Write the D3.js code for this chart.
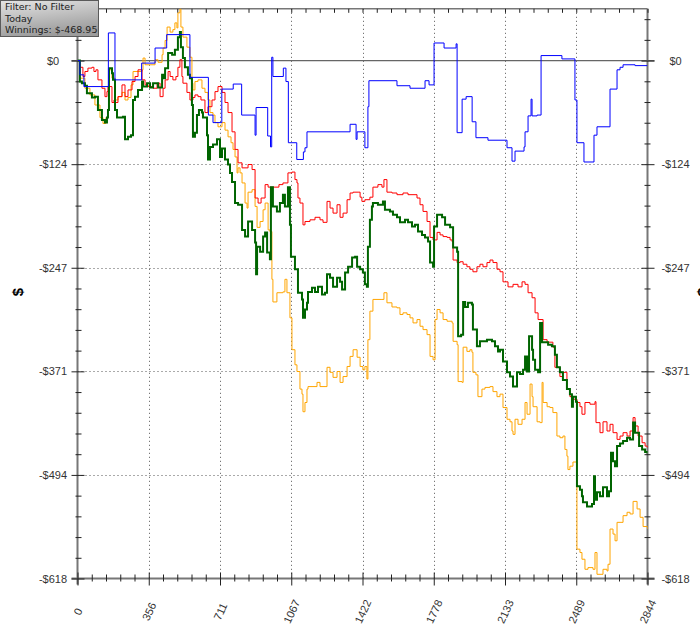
<!DOCTYPE html>
<html><head><meta charset="utf-8">
<script src="https://cdn.jsdelivr.net/npm/d3@7"></script>
<style>
html,body{margin:0;padding:0;background:#fff;}
svg{display:block;}
</style></head>
<body>
<script>
// ---------- data ----------
const xTickValues = [0, 355.5, 711, 1066.5, 1422, 1777.5, 2133, 2488.5, 2844];
const xTickLabels = ["0","356","711","1067","1422","1778","2133","2489","2844"];
const yTickValues = [0, -123.6, -247.2, -370.8, -494.4, -618];
const yTickLabels = ["$0","-$124","-$247","-$371","-$494","-$618"];
const legendLines = ["Filter: No Filter","Today","Winnings: $-468.95"];

// [hand index, cumulative $]
const redSeries = [[0,0],[12,-8],[27,-19],[37,-13],[52,-9],[72,-8],[82,-13],[92,-11],[102,-23],[122,-33],[137,-43],[147,-37],[152,-31],[172,-50],[182,-47],[187,-50],[202,-43],[222,-29],[237,-43],[252,-35],[272,-25],[287,-19],[302,-11],[322,-23],[337,-29],[352,-31],[377,-33],[397,-27],[412,-43],[427,-33],[437,-23],[452,-13],[462,-19],[476,-23],[491,-19],[501,-8],[511,1],[521,-19],[526,-27],[546,-38],[561,-47],[576,-44],[586,-41],[601,-43],[616,-47],[636,-62],[651,-55],[671,-47],[686,-37],[701,-31],[721,-38],[736,-50],[751,-62],[771,-85],[786,-106],[801,-122],[821,-128],[846,-128],[851,-124],[871,-130],[886,-164],[901,-170],[916,-164],[936,-148],[951,-151],[985,-151],[1005,-148],[1025,-146],[1050,-134],[1070,-133],[1085,-142],[1095,-146],[1100,-164],[1110,-170],[1125,-196],[1135,-192],[1160,-190],[1185,-187],[1210,-190],[1225,-193],[1245,-168],[1260,-176],[1275,-182],[1295,-172],[1310,-187],[1325,-182],[1345,-166],[1360,-158],[1375,-157],[1400,-157],[1410,-163],[1419,-168],[1434,-166],[1459,-163],[1474,-151],[1499,-148],[1519,-151],[1529,-142],[1544,-157],[1569,-158],[1594,-160],[1624,-158],[1649,-160],[1674,-160],[1694,-164],[1709,-172],[1724,-180],[1744,-192],[1759,-211],[1774,-214],[1794,-205],[1809,-208],[1824,-210],[1844,-211],[1859,-214],[1869,-216],[1874,-238],[1894,-241],[1909,-240],[1924,-243],[1943,-246],[1958,-249],[1973,-252],[1993,-246],[2008,-243],[2023,-246],[2043,-241],[2058,-238],[2073,-241],[2093,-249],[2108,-252],[2123,-264],[2148,-270],[2173,-267],[2198,-270],[2218,-264],[2233,-267],[2248,-277],[2268,-283],[2283,-301],[2298,-309],[2318,-309],[2323,-333],[2343,-336],[2372,-342],[2382,-366],[2407,-377],[2422,-372],[2442,-392],[2457,-401],[2472,-404],[2492,-408],[2507,-413],[2517,-422],[2532,-408],[2557,-410],[2582,-407],[2587,-432],[2607,-444],[2622,-431],[2642,-442],[2657,-434],[2672,-444],[2692,-452],[2707,-448],[2722,-444],[2742,-448],[2757,-442],[2772,-426],[2782,-436],[2797,-448],[2817,-456],[2832,-460],[2844,-462]];

const orangeSeries = [[0,0],[12,-21],[37,-33],[62,-41],[87,-53],[112,-68],[127,-75],[142,-68],[152,-59],[157,-11],[172,-21],[187,-47],[202,-43],[222,-38],[237,-47],[252,-44],[267,-29],[277,-13],[302,-13],[322,-11],[327,3],[337,-5],[362,-5],[387,1],[402,-2],[422,7],[427,15],[437,24],[447,40],[462,34],[476,37],[486,45],[496,39],[501,57],[511,62],[516,40],[526,28],[546,16],[561,4],[571,-27],[576,-35],[586,-25],[601,-23],[621,-33],[636,-38],[651,-47],[661,-62],[676,-65],[686,-74],[701,-79],[721,-74],[736,-83],[751,-91],[766,-98],[776,-106],[786,-115],[796,-134],[801,-128],[811,-134],[821,-146],[836,-170],[846,-176],[851,-157],[871,-154],[886,-174],[896,-199],[911,-192],[926,-178],[936,-170],[951,-202],[960,-204],[970,-261],[975,-288],[995,-277],[1025,-276],[1035,-261],[1045,-277],[1060,-307],[1070,-345],[1085,-363],[1095,-371],[1110,-392],[1120,-398],[1125,-419],[1135,-408],[1145,-392],[1150,-389],[1175,-389],[1195,-384],[1210,-389],[1235,-389],[1245,-366],[1260,-372],[1275,-378],[1295,-371],[1310,-384],[1325,-377],[1345,-365],[1360,-353],[1375,-345],[1395,-354],[1410,-365],[1424,-369],[1434,-365],[1444,-380],[1449,-333],[1459,-299],[1474,-285],[1519,-285],[1529,-277],[1544,-289],[1569,-294],[1594,-295],[1609,-303],[1624,-301],[1644,-303],[1659,-307],[1674,-313],[1694,-309],[1709,-317],[1724,-321],[1744,-327],[1759,-353],[1774,-357],[1784,-309],[1794,-297],[1809,-301],[1824,-309],[1844,-311],[1869,-313],[1874,-335],[1894,-339],[1899,-383],[1919,-384],[1924,-342],[1943,-347],[1958,-345],[1968,-348],[1973,-372],[1988,-375],[1998,-401],[2018,-392],[2033,-390],[2058,-389],[2073,-395],[2093,-401],[2108,-398],[2123,-414],[2143,-428],[2158,-431],[2168,-442],[2173,-446],[2183,-428],[2198,-434],[2218,-428],[2233,-408],[2243,-422],[2258,-386],[2268,-401],[2273,-413],[2293,-431],[2308,-432],[2318,-384],[2323,-408],[2343,-413],[2357,-414],[2372,-420],[2392,-448],[2407,-450],[2422,-448],[2432,-464],[2442,-472],[2447,-488],[2457,-484],[2472,-479],[2492,-583],[2507,-587],[2517,-595],[2532,-607],[2547,-605],[2572,-607],[2582,-587],[2592,-613],[2622,-607],[2642,-609],[2647,-601],[2657,-559],[2672,-565],[2682,-573],[2692,-551],[2722,-543],[2742,-539],[2757,-541],[2772,-526],[2792,-535],[2807,-545],[2822,-556],[2844,-559]];

const greenSeries = [[0,0],[12,-25],[22,-27],[37,-30],[47,-39],[72,-44],[87,-43],[102,-59],[122,-71],[137,-74],[147,-68],[152,-59],[157,-9],[172,-15],[177,-23],[187,-59],[197,-68],[227,-67],[237,-94],[252,-91],[267,-89],[277,-47],[287,-43],[302,-35],[322,-25],[327,-31],[347,-27],[362,-32],[377,-27],[402,-32],[422,-17],[427,-21],[437,-9],[452,9],[472,7],[486,13],[501,28],[511,34],[516,16],[526,3],[536,-8],[551,-17],[561,-21],[571,-53],[576,-91],[586,-86],[596,-65],[606,-59],[621,-62],[626,-68],[646,-89],[651,-118],[661,-103],[676,-100],[696,-94],[711,-115],[721,-105],[736,-118],[751,-124],[761,-134],[771,-145],[786,-170],[801,-172],[821,-202],[836,-210],[851,-192],[871,-202],[886,-217],[891,-255],[896,-222],[911,-228],[926,-210],[936,-205],[946,-229],[960,-237],[965,-151],[975,-174],[995,-180],[1010,-170],[1025,-160],[1035,-174],[1050,-151],[1060,-196],[1065,-234],[1085,-249],[1100,-277],[1120,-285],[1125,-307],[1135,-297],[1145,-289],[1150,-276],[1170,-271],[1185,-276],[1200,-270],[1220,-279],[1235,-277],[1245,-255],[1260,-259],[1275,-270],[1295,-259],[1310,-264],[1320,-273],[1335,-253],[1350,-246],[1370,-235],[1385,-234],[1395,-246],[1410,-249],[1424,-253],[1434,-267],[1444,-270],[1449,-222],[1459,-190],[1469,-174],[1474,-170],[1499,-172],[1524,-168],[1534,-178],[1559,-180],[1574,-184],[1594,-187],[1609,-193],[1634,-190],[1649,-193],[1669,-198],[1684,-196],[1699,-204],[1719,-208],[1734,-211],[1749,-216],[1759,-241],[1774,-246],[1779,-198],[1794,-184],[1819,-187],[1834,-196],[1859,-199],[1874,-223],[1894,-228],[1899,-329],[1914,-327],[1924,-288],[1934,-294],[1948,-289],[1968,-291],[1973,-321],[1993,-341],[2008,-335],[2043,-333],[2068,-335],[2083,-341],[2098,-347],[2108,-345],[2123,-359],[2143,-372],[2158,-377],[2173,-389],[2193,-372],[2208,-374],[2223,-369],[2233,-353],[2243,-371],[2253,-329],[2268,-345],[2273,-357],[2283,-369],[2298,-372],[2308,-313],[2318,-336],[2348,-339],[2367,-341],[2382,-351],[2392,-366],[2407,-372],[2422,-381],[2442,-392],[2457,-398],[2467,-413],[2472,-401],[2487,-407],[2492,-508],[2507,-512],[2517,-520],[2522,-527],[2542,-532],[2567,-529],[2577,-496],[2582,-524],[2592,-515],[2607,-520],[2622,-509],[2642,-520],[2652,-514],[2662,-468],[2672,-478],[2682,-484],[2692,-460],[2707,-457],[2722,-454],[2742,-450],[2757,-452],[2772,-432],[2782,-444],[2802,-460],[2817,-464],[2832,-467],[2844,-468.95]];

const blueSeries = [[0,0],[12,-17],[32,-31],[154,33],[187,-23],[320,-3],[387,15],[445,31],[561,-20],[653,-65],[676,-74],[720,-34],[777,-28],[819,-65],[886,-89],[891,-56],[949,-90],[963,-103],[969,4],[975,-19],[1027,-9],[1040,-25],[1052,-98],[1094,-118],[1127,-109],[1135,-104],[1145,-85],[1360,-76],[1390,-94],[1395,-85],[1434,-104],[1449,-55],[1454,-24],[1594,-30],[1659,-33],[1734,-24],[1754,-29],[1779,21],[1829,15],[1889,20],[1894,-86],[1919,-46],[1939,-43],[1969,-73],[1988,-92],[2048,-95],[2143,-104],[2168,-120],[2183,-108],[2228,-103],[2233,-85],[2248,-66],[2263,-46],[2268,-66],[2293,-65],[2313,6],[2417,2],[2482,-47],[2492,-98],[2527,-121],[2577,-89],[2592,-79],[2657,-34],[2692,-11],[2707,-8],[2722,-5],[2782,-6],[2844,-6]];

// ---------- layout ----------
const W = 700, H = 625;
const M = {l: 77.5, r: 647.5, t: 8.8, b: 578.5};
const x = d3.scaleLinear().domain([0, 2844]).range([M.l, M.r]);
const y = d3.scaleLinear().domain([-618, 61.8]).range([M.b, M.t]);

const xMinor = [];
for (let i = 0; i < xTickValues.length - 1; i++)
  for (let k = 1; k < 5; k++) xMinor.push(xTickValues[i] + k * 355.5 / 5);
const yMinor = [49.44, 24.72];
for (let i = 0; i < yTickValues.length - 1; i++)
  for (let k = 1; k < 5; k++) yMinor.push(yTickValues[i] - k * 123.6 / 5);

const svg = d3.select("body").append("svg").attr("width", W).attr("height", H)
  .style("font-family", "'Liberation Sans', Arial, sans-serif");

const axisCol = "#777", tickCol = "#222", labCol = "#333";

// grid
svg.append("g").selectAll("line").data(xTickValues.slice(1, -1)).join("line")
  .attr("x1", d => Math.round(x(d)) + 0.5).attr("x2", d => Math.round(x(d)) + 0.5)
  .attr("y1", M.t).attr("y2", M.b)
  .attr("stroke", "#555").attr("stroke-width", 1).attr("stroke-dasharray", "1,3");
svg.append("g").selectAll("line").data(yTickValues.slice(1, -1)).join("line")
  .attr("x1", M.l).attr("x2", M.r)
  .attr("y1", d => Math.round(y(d)) + 0.5).attr("y2", d => Math.round(y(d)) + 0.5)
  .attr("stroke", "#555").attr("stroke-width", 1).attr("stroke-dasharray", "1,3");

// zero line
svg.append("line").attr("x1", M.l - 6).attr("x2", M.r + 7)
  .attr("y1", y(0)).attr("y2", y(0)).attr("stroke", "#666").attr("stroke-width", 1.3);

// frame lines
svg.append("line").attr("x1", M.l).attr("x2", M.r).attr("y1", M.t).attr("y2", M.t)
  .attr("stroke", axisCol).attr("stroke-width", 1.5);
svg.append("line").attr("x1", M.l).attr("x2", M.l).attr("y1", M.t).attr("y2", M.b + 6)
  .attr("stroke", axisCol).attr("stroke-width", 2);
svg.append("line").attr("x1", M.r).attr("x2", M.r).attr("y1", M.t).attr("y2", M.b + 6)
  .attr("stroke", axisCol).attr("stroke-width", 2);
svg.append("line").attr("x1", M.l - 6).attr("x2", M.r + 7).attr("y1", M.b).attr("y2", M.b)
  .attr("stroke", axisCol).attr("stroke-width", 2);

function styleAxis(g) {
  g.select(".domain").remove();
  g.selectAll(".tick line").attr("stroke", tickCol).attr("stroke-width", 1);
  g.selectAll(".tick text").attr("fill", labCol).style("font-size", "11px")
    .style("font-family", "'Liberation Sans', Arial, sans-serif");
}

// left axis
const gL = svg.append("g").attr("transform", `translate(${M.l},0)`)
  .call(d3.axisLeft(y).tickValues(yTickValues).tickFormat((d, i) => yTickLabels[i]).tickSize(6));
styleAxis(gL);
gL.selectAll(".tick line").attr("x1", 7);
gL.selectAll(".tick text").attr("text-anchor", "middle").attr("x", -24.5);
const gLm = svg.append("g").attr("transform", `translate(${M.l},0)`)
  .call(d3.axisLeft(y).tickValues(yMinor).tickFormat("").tickSize(2));
styleAxis(gLm);
gLm.selectAll(".tick line").attr("x1", 4);

// right axis
const gR = svg.append("g").attr("transform", `translate(${M.r},0)`)
  .call(d3.axisRight(y).tickValues(yTickValues).tickFormat((d, i) => yTickLabels[i]).tickSize(7));
styleAxis(gR);
gR.selectAll(".tick line").attr("x1", -6);
gR.selectAll(".tick text").attr("text-anchor", "middle").attr("x", 28);
const gRm = svg.append("g").attr("transform", `translate(${M.r},0)`)
  .call(d3.axisRight(y).tickValues(yMinor).tickFormat("").tickSize(3));
styleAxis(gRm);
gRm.selectAll(".tick line").attr("x1", -3);

// bottom axis
const gB = svg.append("g").attr("transform", `translate(0,${M.b})`)
  .call(d3.axisBottom(x).tickValues(xTickValues).tickFormat((d, i) => xTickLabels[i]).tickSize(7));
styleAxis(gB);
gB.selectAll(".tick line").attr("y1", -6);
gB.selectAll(".tick text").attr("y", null).attr("dy", "0.35em")
  .attr("text-anchor", "middle").attr("transform", "translate(0,33) rotate(-65)");
const gBm = svg.append("g").attr("transform", `translate(0,${M.b})`)
  .call(d3.axisBottom(x).tickValues(xMinor).tickFormat("").tickSize(3));
styleAxis(gBm);
gBm.selectAll(".tick line").attr("y1", -4);

// top ticks
const gT = svg.append("g").attr("transform", `translate(0,${M.t})`)
  .call(d3.axisTop(x).tickValues(xTickValues.concat(xMinor)).tickFormat("").tickSize(-4));
styleAxis(gT);

// axis titles
svg.append("text").attr("transform", "translate(17,292) rotate(-90)")
  .attr("text-anchor", "middle").attr("dominant-baseline", "central")
  .style("font-size", "15px").style("font-weight", "bold").attr("fill", "#000").text("$");
svg.append("text").attr("transform", "translate(703,292) rotate(90)")
  .attr("text-anchor", "middle").attr("dominant-baseline", "central")
  .style("font-size", "15px").style("font-weight", "bold").attr("fill", "#000").text("$");

// series
svg.append("defs").append("clipPath").attr("id", "plotclip").append("rect")
  .attr("x", M.l).attr("y", M.t).attr("width", M.r - M.l).attr("height", M.b - M.t);
const line = d3.line().x(d => x(d[0])).y(d => y(d[1])).curve(d3.curveStepAfter);
const gS = svg.append("g").attr("clip-path", "url(#plotclip)");
[[orangeSeries, "#ffa500", 1], [redSeries, "#ff0000", 1],
 [greenSeries, "#006400", 2], [blueSeries, "#0000ff", 1]].forEach(([data, col, w]) => {
  gS.append("path").datum(data).attr("d", line).attr("fill", "none")
    .attr("stroke", col).attr("stroke-width", w).attr("stroke-linejoin", "miter");
});

// legend box
const grad = svg.select("defs").append("linearGradient").attr("id", "lgGrad")
  .attr("x1", 0).attr("y1", 0).attr("x2", 0.3).attr("y2", 1);
grad.append("stop").attr("offset", 0).attr("stop-color", "#e4e4e4");
grad.append("stop").attr("offset", 1).attr("stop-color", "#9c9c9c");
svg.append("rect").attr("x", 0.5).attr("y", 0.5).attr("width", 98).attr("height", 36)
  .attr("fill", "url(#lgGrad)").attr("stroke", "#5a5a5a").attr("stroke-width", 1);
svg.append("g").selectAll("text").data(legendLines).join("text")
  .attr("x", 5).attr("y", (d, i) => 10 + i * 11.5)
  .style("font-family", "'DejaVu Sans', Verdana, sans-serif").style("font-size", "9.5px")
  .attr("fill", "#222").text(d => d);
</script>
</body></html>
